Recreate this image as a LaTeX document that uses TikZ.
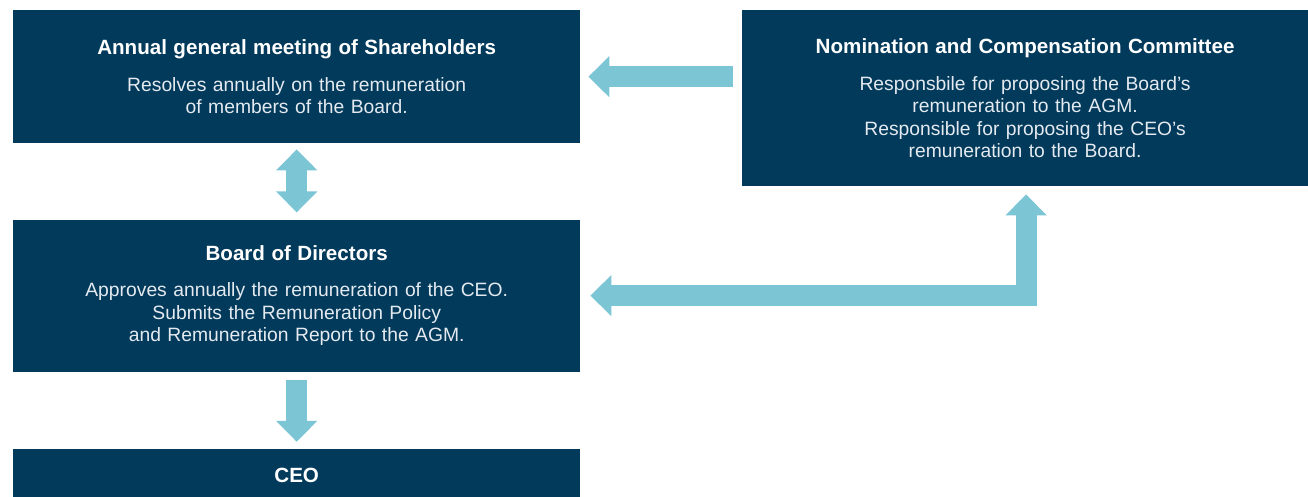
\documentclass[tikz,border=0pt]{standalone}
\usepackage{fontspec}
\setmainfont{Liberation Sans}
\usepackage{xcolor}
\usepackage{tikz}
\usetikzlibrary{positioning, arrows.meta}

\definecolor{navy}{HTML}{023A5C}
\definecolor{arrowblue}{HTML}{7BC5D5}
\definecolor{bodytext}{HTML}{E4EAEF}

\newcommand{\boxtitle}[1]{{\fontsize{20.6}{22}\selectfont\bfseries\color{white}#1}\\[14pt]}

\tikzset{
    box/.style={fill=navy, text=bodytext, minimum width=567pt, text width=560pt, inner sep=0pt, align=center, font=\fontsize{19.3}{22.5}\selectfont},
    fat/.style={line width=21pt, draw=arrowblue, line join=miter, >={Triangle[length=21pt, width=40pt]}}
}

\begin{document}
\begin{tikzpicture}[x=1pt, y=-1pt]
    \useasboundingbox (0,0) rectangle (1308,497);

    % Boxes
    \node[box, minimum height=133pt, anchor=north west] (agm) at (13,10) {\boxtitle{Annual general meeting of Shareholders}Resolves annually on the remuneration\\ of members of the Board.};

    \node[box, minimum height=176pt, right=161pt of agm.north east, anchor=north west] (ncc) {\boxtitle{Nomination and Compensation Committee}Responsbile for proposing the Board’s\\ remuneration to the AGM.\\ Responsible for proposing the CEO’s\\ remuneration to the Board.};

    \node[box, minimum height=152pt, below=76pt of agm] (board) {\boxtitle{Board of Directors}Approves annually the remuneration of the CEO.\\ Submits the Remuneration Policy\\ and Remuneration Report to the AGM.};

    \node[box, minimum height=52pt, below=77pt of board] (ceo) {{\fontsize{20.6}{22}\selectfont\bfseries\color{white}CEO}};

    % Arrows
    \draw[fat, ->, shorten <=8pt, shorten >=8pt] (ncc.west |- agm.east) -- (agm.east);
    \draw[fat, <->, shorten <=6pt, shorten >=7pt] (agm.south) -- (board.north);
    \draw[fat, ->, shorten <=8pt, shorten >=7pt] (board.south) -- (ceo.north);
    \draw[fat, <->, shorten <=8pt, shorten >=10pt] ([xshift=1pt]ncc.south) |- (board.east);
\end{tikzpicture}
\end{document}
